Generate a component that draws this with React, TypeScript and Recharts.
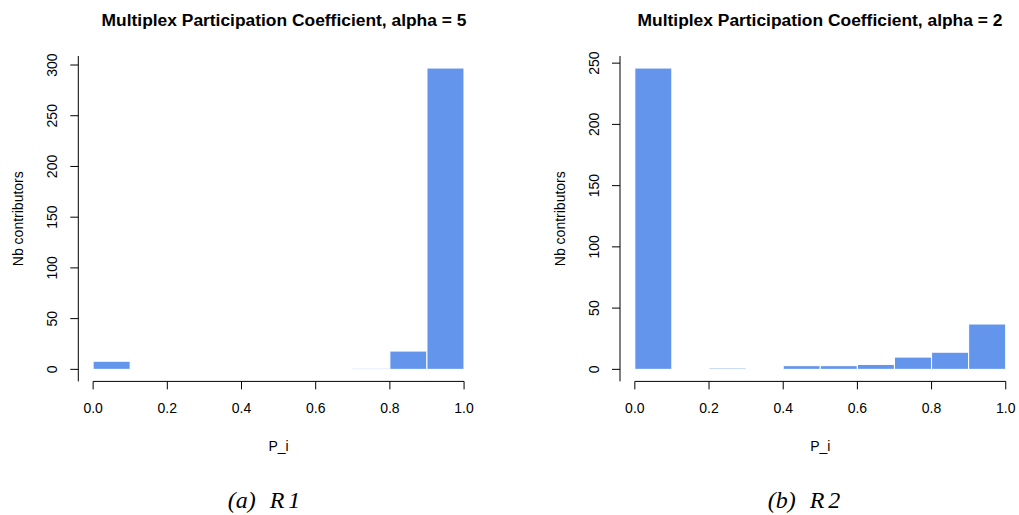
import { BarChart, Bar, XAxis, YAxis, ReferenceLine } from 'recharts';

// histogram bins of P_i (width 0.1)
const binLabels = [
  '0.0-0.1', '0.1-0.2', '0.2-0.3', '0.3-0.4', '0.4-0.5',
  '0.5-0.6', '0.6-0.7', '0.7-0.8', '0.8-0.9', '0.9-1.0',
];
const binMids = [0.05, 0.15, 0.25, 0.35, 0.45, 0.55, 0.65, 0.75, 0.85, 0.95];
const countsR1 = [8, 0, 0, 0, 0, 0, 0, 1, 18, 297];
const countsR2 = [246, 0, 1, 0, 3, 3, 4, 10, 14, 37];

const xTicks = [0, 0.2, 0.4, 0.6, 0.8, 1.0];
const yTicksR1 = [0, 50, 100, 150, 200, 250, 300];
const yTicksR2 = [0, 50, 100, 150, 200, 250];

const FILL = '#6495ED';
const SANS = '"Liberation Sans", Arial, Helvetica, sans-serif';
const SERIF = '"Liberation Serif", "DejaVu Serif", serif';

const PLOT_TOP = 56;
const PLOT_BOTTOM = 381.4;
const PLOT_W = 400.6;
const CHART_H = 470;

function YTick({ x, y, payload }: any) {
  return (
    <text
      x={x}
      y={y}
      transform={`rotate(-90 ${x} ${y})`}
      textAnchor="middle"
      dominantBaseline="central"
      fill="#000"
      fontSize={14}
      fontFamily={SANS}
    >
      {payload.value}
    </text>
  );
}

function Histogram({
  counts,
  yTicks,
  axisWidth,
  width,
}: {
  counts: number[];
  yTicks: number[];
  axisWidth: number;
  width: number;
}) {
  const data = binLabels.map((bin, i) => ({ bin, mid: binMids[i], count: counts[i] }));
  const yMax = Math.max(...counts);
  const yLo = -0.04 * yMax;
  const yHi = 1.04 * yMax;
  const pad = (PLOT_W * 0.04) / 1.08;

  return (
    <BarChart
      width={width}
      height={CHART_H}
      data={data}
      margin={{ top: PLOT_TOP, right: width - axisWidth - PLOT_W, bottom: 0, left: 0 }}
      barCategoryGap={0}
      barGap={0}
    >
      <XAxis
        xAxisId="bins"
        dataKey="bin"
        type="category"
        hide
        height={0}
        padding={{ left: pad, right: pad }}
      />
      <XAxis
        xAxisId="num"
        dataKey="mid"
        type="number"
        domain={[-0.04, 1.04]}
        allowDataOverflow
        ticks={xTicks}
        interval={0}
        tickFormatter={(v: number) => v.toFixed(1)}
        axisLine={false}
        tickSize={8}
        tickMargin={14}
        height={CHART_H - PLOT_BOTTOM}
        tick={{ fill: '#000', fontSize: 14, fontFamily: SANS }}
        tickLine={{ stroke: '#000' }}
        label={{
          content: ({ viewBox }: any) => (
            <text
              x={viewBox.x + viewBox.width / 2}
              y={PLOT_BOTTOM + 70}
              textAnchor="middle"
              fill="#000"
              fontSize={14}
              fontFamily={SANS}
            >
              P_i
            </text>
          ),
        }}
      />
      <YAxis
        type="number"
        domain={[yLo, yHi]}
        allowDataOverflow
        ticks={yTicks}
        interval={0}
        width={axisWidth}
        axisLine={{ stroke: '#000', strokeWidth: 1 }}
        tickSize={8}
        tickMargin={18}
        tick={<YTick />}
        tickLine={{ stroke: '#000' }}
        label={{
          value: 'Nb contributors',
          angle: -90,
          position: 'insideLeft',
          offset: 18,
          fill: '#000',
          fontSize: 14,
          fontFamily: SANS,
          style: { textAnchor: 'middle' },
        }}
      />
      <Bar
        xAxisId="bins"
        dataKey="count"
        fill={FILL}
        stroke="#ffffff"
        strokeWidth={1}
        isAnimationActive={false}
      />
      {/* R-style x axis line, spanning first to last tick */}
      <ReferenceLine
        xAxisId="num"
        segment={[
          { x: xTicks[0], y: yLo },
          { x: xTicks[xTicks.length - 1], y: yLo },
        ]}
        stroke="#000"
        strokeWidth={1}
        ifOverflow="visible"
      />
    </BarChart>
  );
}

const titleStyle: React.CSSProperties = {
  position: 'absolute',
  top: 10,
  width: 500,
  textAlign: 'center',
  fontFamily: SANS,
  fontWeight: 'bold',
  fontSize: 17.4,
  lineHeight: '20px',
  color: '#000',
};

const captionStyle: React.CSSProperties = {
  position: 'absolute',
  top: 486,
  width: 300,
  textAlign: 'center',
  fontFamily: SERIF,
  fontStyle: 'italic',
  fontSize: 24,
  lineHeight: '28px',
  color: '#000',
};

export default function App() {
  return (
    <div
      style={{
        position: 'absolute',
        left: 0,
        top: 0,
        width: 1019,
        height: 515,
        overflow: 'hidden',
        background: '#fff',
      }}
    >
      <div style={{ position: 'absolute', left: 0, top: 0 }}>
        <Histogram counts={countsR1} yTicks={yTicksR1} axisWidth={78.3} width={500} />
      </div>
      <div style={{ position: 'absolute', left: 542, top: 0 }}>
        <Histogram counts={countsR2} yTicks={yTicksR2} axisWidth={78} width={480} />
      </div>

      <div style={{ ...titleStyle, left: 284 - 250 }}>
        Multiplex Participation Coefficient, alpha = 5
      </div>
      <div style={{ ...titleStyle, left: 820 - 250 }}>
        Multiplex Participation Coefficient, alpha = 2
      </div>

      <div style={{ ...captionStyle, left: 266 - 150 }}>
        (a)<span style={{ marginLeft: 14, letterSpacing: 4 }}>R1</span>
      </div>
      <div style={{ ...captionStyle, left: 806 - 150 }}>
        (b)<span style={{ marginLeft: 14, letterSpacing: 4 }}>R2</span>
      </div>
    </div>
  );
}
